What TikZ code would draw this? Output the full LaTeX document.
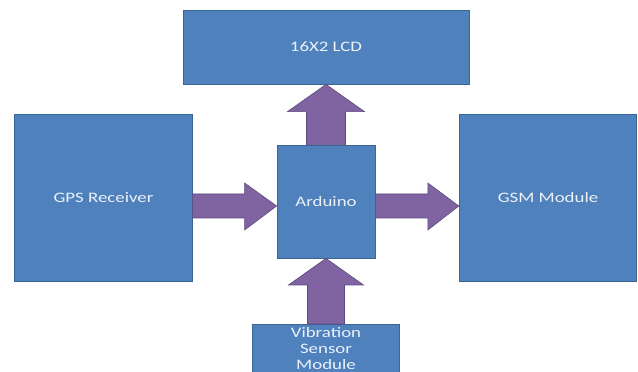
\documentclass[tikz,border=0pt]{standalone}
\usepackage{fontspec}
\newfontfamily\lbl[FakeStretch=1.3]{Carlito}
\usetikzlibrary{calc,backgrounds}
\definecolor{boxfill}{HTML}{4F81BD}
\definecolor{boxline}{HTML}{3A6595}
\definecolor{arrfill}{HTML}{8064A2}
\definecolor{arrline}{HTML}{5E4A7E}
\definecolor{txt}{RGB}{236,241,249}
\tikzset{
  blk/.style={draw=boxline, line width=0.8pt, fill=boxfill, text=txt, inner sep=1pt,
    font=\lbl\fontsize{14.5}{17}\selectfont, align=center},
  arr/.style={draw=arrline, line width=0.6pt, fill=arrfill, line join=miter}
}
\begin{document}
\begin{tikzpicture}[x=1pt,y=1pt]
\clip (0,0) rectangle (638,372);
\node[blk, minimum width=286, minimum height=74] (lcd) at (326,325) {16X2 LCD};
\node[blk, minimum width=177.5, minimum height=167] (gps) at (103.5,174.5) {GPS Receiver};
\node[blk, minimum width=177.5, minimum height=167] (gsm) at (548,174.5) {GSM Module};
\node[blk, minimum width=98, minimum height=113] (ard) at (326,170.5) {Arduino};
\node[blk, draw=none, fill=none, inner ysep=0pt, font=\lbl\fontsize{14.5}{16}\selectfont,
  minimum width=146, minimum height=48, anchor=north] (vib) at (326,48) {Vibration\\Sensor\\Module};
\begin{scope}[on background layer]
  \fill[white] (0,0) rectangle (638,372);
  \draw[draw=boxline, line width=0.8pt, fill=boxfill] ($(vib.south west)+(0,-6)$) rectangle (vib.north east);
\end{scope}
% up arrow Arduino -> LCD
\draw[arr] ($(ard.north)+(-19.5,0)$) -- ++(0,33) -- ++(-19,0) -- (lcd.south)
  -- ($(ard.north)+(38.5,33)$) -- ++(-19,0) -- ($(ard.north)+(19.5,0)$) -- cycle;
% up arrow Vibration -> Arduino
\draw[arr] ($(vib.north)+(-18.5,0)$) -- ++(0,39) -- ++(-19,0) -- (ard.south)
  -- ($(vib.north)+(37.5,39)$) -- ++(-19,0) -- ($(vib.north)+(18.5,0)$) -- cycle;
% GPS -> Arduino
\coordinate (gt) at (ard.west |- 0,166);
\draw[arr] (gps.east |- 0,178) -- ($(gt)+(-32,12)$) -- ($(gt)+(-32,23)$) -- (gt)
  -- ($(gt)+(-32,-24)$) -- ($(gt)+(-32,-12)$) -- (gps.east |- 0,154) -- cycle;
% Arduino -> GSM
\coordinate (mt) at (gsm.west |- 0,166);
\draw[arr] (ard.east |- 0,178) -- ($(mt)+(-31,12)$) -- ($(mt)+(-31,23)$) -- (mt)
  -- ($(mt)+(-31,-24)$) -- ($(mt)+(-31,-12)$) -- (ard.east |- 0,154) -- cycle;
\end{tikzpicture}
\end{document}
